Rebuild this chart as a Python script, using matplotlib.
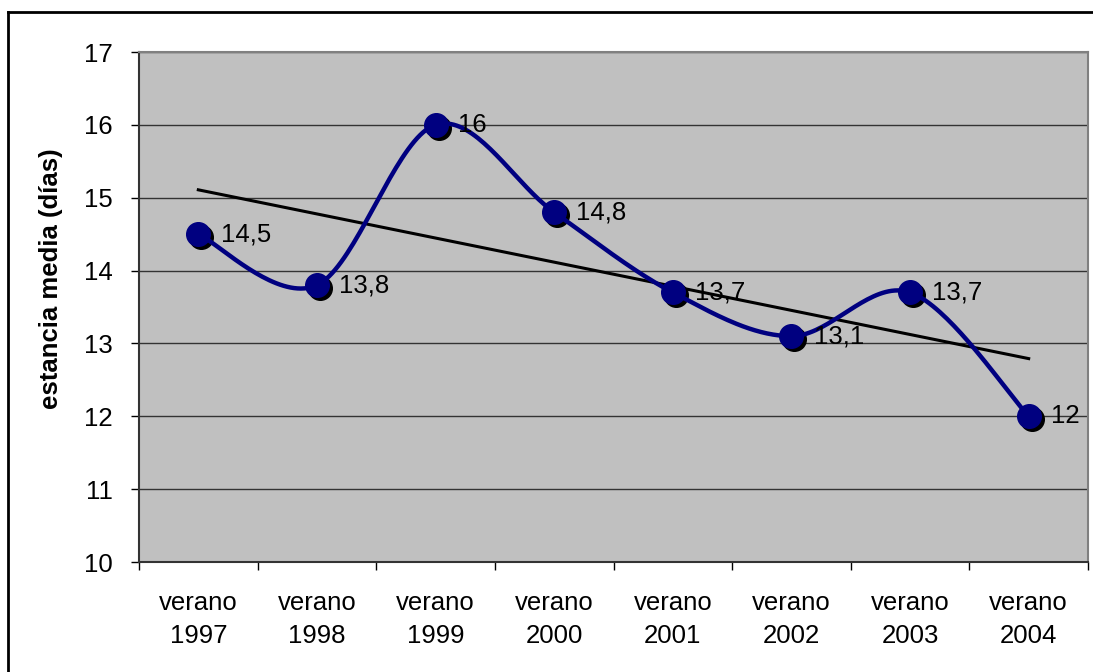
import matplotlib
matplotlib.use("Agg")
import matplotlib.pyplot as plt
import matplotlib.transforms as mtransforms
from matplotlib.lines import Line2D
import numpy as np

plt.rcParams["font.family"] = ["Liberation Sans", "DejaVu Sans"]

# Estancia media por temporada de verano
seasons = ["verano\n1997", "verano\n1998", "verano\n1999", "verano\n2000",
           "verano\n2001", "verano\n2002", "verano\n2003", "verano\n2004"]
stay_days = [14.5, 13.8, 16.0, 14.8, 13.7, 13.1, 13.7, 12.0]
stay_labels = ["14,5", "13,8", "16", "14,8", "13,7", "13,1", "13,7", "12"]

NAVY = "#000080"
PLOT_BG = "#c0c0c0"
FS = 18.5


def smooth_curve(x, y, steps=40):
    """Cubic Bezier segments with Catmull-Rom style control points."""
    x = np.asarray(x, dtype=float)
    y = np.asarray(y, dtype=float)
    px = np.concatenate([[x[0]], x, [x[-1]]])
    py = np.concatenate([[y[0]], y, [y[-1]]])
    xs, ys = [], []
    t = np.linspace(0, 1, steps)
    for i in range(1, len(px) - 2):
        p0 = np.array([px[i], py[i]])
        p3 = np.array([px[i + 1], py[i + 1]])
        c1 = p0 + (np.array([px[i + 1], py[i + 1]]) - np.array([px[i - 1], py[i - 1]])) / 6
        c2 = p3 - (np.array([px[i + 2], py[i + 2]]) - np.array([px[i], py[i]])) / 6
        seg = ((1 - t) ** 3)[:, None] * p0 + (3 * (1 - t) ** 2 * t)[:, None] * c1 \
            + (3 * (1 - t) * t ** 2)[:, None] * c2 + (t ** 3)[:, None] * p3
        xs.append(seg[:, 0])
        ys.append(seg[:, 1])
    return np.concatenate(xs), np.concatenate(ys)


fig = plt.figure(figsize=(10.93, 6.72), dpi=100)
ax = fig.add_axes([139 / 1093, 1 - 562 / 672, (1088 - 139) / 1093, (562 - 52) / 672])
ax.set_facecolor(PLOT_BG)

xpos = np.arange(len(seasons))

# horizontal gridlines
ax.yaxis.grid(True, color="#333333", linewidth=1.0)
ax.set_axisbelow(True)

# linear trend
slope, intercept = np.polyfit(xpos, stay_days, 1)
ax.plot([xpos[0], xpos[-1]], [intercept, intercept + slope * xpos[-1]],
        color="black", linewidth=2.2, zorder=3)

# marker shadow
shadow = mtransforms.offset_copy(ax.transData, fig=fig, x=3, y=-3, units="dots")
ax.plot(xpos, stay_days, "o", color="black", markersize=17, transform=shadow, zorder=4)

sx, sy = smooth_curve(xpos, stay_days)
ax.plot(sx, sy, color=NAVY, linewidth=3.2, zorder=5, solid_capstyle="round")
ax.plot(xpos, stay_days, "o", color=NAVY, markersize=17, zorder=6)

for xi, yi, lab in zip(xpos, stay_days, stay_labels):
    ax.annotate(lab, (xi, yi), xytext=(16, 0), textcoords="offset points",
                ha="left", va="center", fontsize=FS, zorder=7)

ax.set_xlim(-0.5, len(seasons) - 0.5)
ax.set_ylim(10, 17)
ax.set_yticks(range(10, 18))
ax.tick_params(axis="y", direction="out", length=6, width=1, labelsize=FS, pad=13)

# category labels centred, ticks at the boundaries
ax.set_xticks(np.arange(len(seasons) + 1) - 0.5)
ax.set_xticklabels([])
ax.set_xticks(xpos, minor=True)
ax.set_xticklabels(seasons, minor=True, fontsize=FS, linespacing=1.45)
ax.tick_params(axis="x", which="major", direction="out", length=6, width=1)
ax.tick_params(axis="x", which="minor", length=0, pad=21)

ax.set_ylabel("estancia media (días)", fontsize=FS, fontweight="bold")
ax.yaxis.set_label_coords(-0.080, 0.555)

for side in ["left", "bottom"]:
    ax.spines[side].set_color("#333333")
    ax.spines[side].set_linewidth(1.5)
for side in ["top", "right"]:
    ax.spines[side].set_color("#808080")
    ax.spines[side].set_linewidth(1.5)

# outer chart border
fig.add_artist(Line2D([8 / 1093, 1.0], [1 - 12 / 672, 1 - 12 / 672],
                      transform=fig.transFigure, color="black", linewidth=2))
fig.add_artist(Line2D([8 / 1093, 8 / 1093], [0.0, 1 - 12 / 672],
                      transform=fig.transFigure, color="black", linewidth=2))

fig.savefig("out.png", dpi=100)
